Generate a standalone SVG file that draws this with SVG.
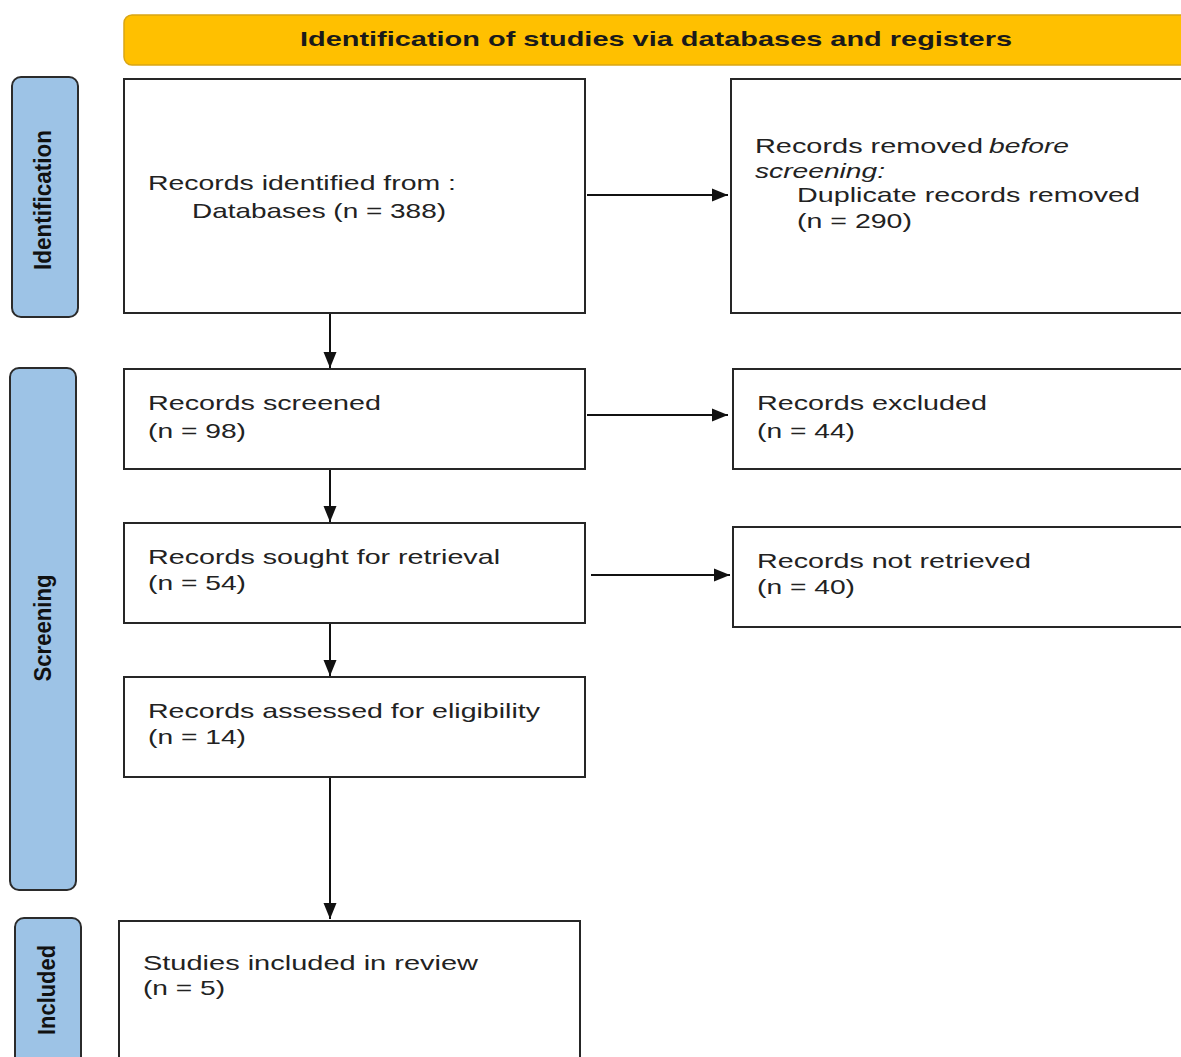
<svg xmlns="http://www.w3.org/2000/svg" width="1181" height="1057" viewBox="0 0 1181 1057">
<style>
.box{fill:#fff;stroke:#262626;stroke-width:2}
.side{fill:#9DC3E6;stroke:#2b2b2b;stroke-width:2}
.t{font-family:"Liberation Sans",Arial,sans-serif;font-size:21px;fill:#222}
.sl{font-family:"Liberation Sans",Arial,sans-serif;font-size:24px;font-weight:bold;fill:#111;text-anchor:middle}
.conn{stroke:#111;stroke-width:2;fill:none}
</style>
<defs>
<marker id="ah" markerUnits="userSpaceOnUse" markerWidth="16" markerHeight="16" viewBox="0 0 16 16" refX="16" refY="8" orient="auto">
<path d="M0,1.5 L16,8 L0,14.5 Z" fill="#111"/>
</marker>
</defs>
<rect width="1181" height="1057" fill="#fff"/>
<g id="banner">
<rect x="124" y="15" width="1080" height="50" rx="8" fill="#FFC000" stroke="#D9A514" stroke-width="1.5"/>
<text x="300" y="46" font-family="'Liberation Sans',Arial,sans-serif" font-size="21" font-weight="bold" fill="#1a1a1a" textLength="712" lengthAdjust="spacingAndGlyphs">Identification of studies via databases and registers</text>
</g>
<g id="side-identification">
<rect class="side" x="12" y="77" width="66" height="240" rx="9"/>
<text class="sl" transform="translate(51,200) rotate(-90)" textLength="140" lengthAdjust="spacingAndGlyphs">Identification</text>
</g>
<g id="side-screening">
<rect class="side" x="10" y="368" width="66" height="522" rx="9"/>
<text class="sl" transform="translate(51,628) rotate(-90)" textLength="107" lengthAdjust="spacingAndGlyphs">Screening</text>
</g>
<g id="side-included">
<rect class="side" x="15" y="918" width="66" height="160" rx="9"/>
<text class="sl" transform="translate(55,990) rotate(-90)" textLength="90" lengthAdjust="spacingAndGlyphs">Included</text>
</g>
<g id="n-identified">
<rect class="box" x="124" y="79" width="461" height="234"/>
<text class="t" x="148" y="190" textLength="308" lengthAdjust="spacingAndGlyphs">Records identified from :</text>
<text class="t" x="192" y="218" textLength="254" lengthAdjust="spacingAndGlyphs">Databases (n = 388)</text>
</g>
<g id="n-removed">
<rect class="box" x="731" y="79" width="470" height="234"/>
<text class="t" x="755" y="153"><tspan textLength="228" lengthAdjust="spacingAndGlyphs">Records removed</tspan> <tspan x="989" font-style="italic" textLength="80" lengthAdjust="spacingAndGlyphs">before</tspan></text>
<text class="t" x="755" y="178" font-style="italic" textLength="130" lengthAdjust="spacingAndGlyphs">screening:</text>
<text class="t" x="797" y="202" textLength="343" lengthAdjust="spacingAndGlyphs">Duplicate records removed</text>
<text class="t" x="797" y="228" textLength="115" lengthAdjust="spacingAndGlyphs">(n = 290)</text>
</g>
<g id="n-screened">
<rect class="box" x="124" y="369" width="461" height="100"/>
<text class="t" x="148" y="410" textLength="233" lengthAdjust="spacingAndGlyphs">Records screened</text>
<text class="t" x="148" y="438" textLength="98" lengthAdjust="spacingAndGlyphs">(n = 98)</text>
</g>
<g id="n-excluded">
<rect class="box" x="733" y="369" width="470" height="100"/>
<text class="t" x="757" y="410" textLength="230" lengthAdjust="spacingAndGlyphs">Records excluded</text>
<text class="t" x="757" y="438" textLength="98" lengthAdjust="spacingAndGlyphs">(n = 44)</text>
</g>
<g id="n-sought">
<rect class="box" x="124" y="523" width="461" height="100"/>
<text class="t" x="148" y="564" textLength="352" lengthAdjust="spacingAndGlyphs">Records sought for retrieval</text>
<text class="t" x="148" y="590" textLength="98" lengthAdjust="spacingAndGlyphs">(n = 54)</text>
</g>
<g id="n-notretrieved">
<rect class="box" x="733" y="527" width="470" height="100"/>
<text class="t" x="757" y="568" textLength="274" lengthAdjust="spacingAndGlyphs">Records not retrieved</text>
<text class="t" x="757" y="594" textLength="98" lengthAdjust="spacingAndGlyphs">(n = 40)</text>
</g>
<g id="n-assessed">
<rect class="box" x="124" y="677" width="461" height="100"/>
<text class="t" x="148" y="718" textLength="392" lengthAdjust="spacingAndGlyphs">Records assessed for eligibility</text>
<text class="t" x="148" y="744" textLength="98" lengthAdjust="spacingAndGlyphs">(n = 14)</text>
</g>
<g id="n-included">
<rect class="box" x="119" y="921" width="461" height="160"/>
<text class="t" x="143" y="970" textLength="335" lengthAdjust="spacingAndGlyphs">Studies included in review</text>
<text class="t" x="143" y="995" textLength="82" lengthAdjust="spacingAndGlyphs">(n = 5)</text>
</g>
<g id="connectors">
<line class="conn" x1="330" y1="314" x2="330" y2="368" marker-end="url(#ah)"/>
<line class="conn" x1="330" y1="470" x2="330" y2="522" marker-end="url(#ah)"/>
<line class="conn" x1="330" y1="624" x2="330" y2="676" marker-end="url(#ah)"/>
<line class="conn" x1="330" y1="778" x2="330" y2="919" marker-end="url(#ah)"/>
<line class="conn" x1="587" y1="195" x2="728" y2="195" marker-end="url(#ah)"/>
<line class="conn" x1="587" y1="415" x2="728" y2="415" marker-end="url(#ah)"/>
<line class="conn" x1="591" y1="575" x2="730" y2="575" marker-end="url(#ah)"/>
</g>
</svg>
